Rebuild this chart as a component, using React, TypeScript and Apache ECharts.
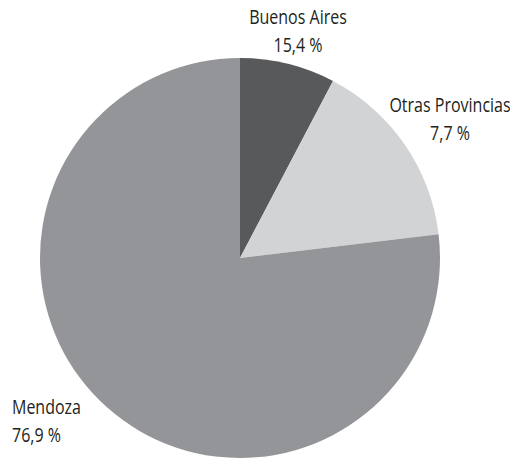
import React, { useEffect, useRef } from "react";
import * as echarts from "echarts";

const categories = ["Buenos Aires", "Otras Provincias", "Mendoza"];
const sliceValues = [7.7, 15.4, 76.9];
const percentLabels = ["15,4 %", "7,7 %", "76,9 %"];
const sliceColors = ["#58595b", "#d1d3d4", "#939598"];

const FONT = '"Open Sans", sans-serif';

export default function App() {
  const ref = useRef<HTMLDivElement>(null);
  useEffect(() => {
    if (!ref.current) return;
    const chart = echarts.init(ref.current, null, { renderer: "svg" });
    const labelPos = [
      { x: 298, y: 2, align: "center" },
      { x: 450, y: 90, align: "center" },
      { x: 12, y: 392, align: "left" },
    ];
    chart.setOption({
      animation: false,
      backgroundColor: "#ffffff",
      series: [
        {
          type: "pie",
          center: [240, 258],
          radius: [0, 200],
          startAngle: 90,
          clockwise: true,
          label: { show: false },
          labelLine: { show: false },
          emphasis: { disabled: true },
          itemStyle: { borderWidth: 0 },
          data: categories.map((name, i) => ({
            name,
            value: sliceValues[i],
            itemStyle: { color: sliceColors[i] },
          })),
        },
      ],
      graphic: categories.map((name, i) => ({
        type: "text",
        x: labelPos[i].x,
        y: labelPos[i].y,
        scaleX: 0.8,
        style: {
          text: name + "\n" + percentLabels[i],
          fontFamily: FONT,
          fontSize: 20,
          lineHeight: 28,
          fill: "#231f20",
          align: labelPos[i].align,
          verticalAlign: "top",
        },
      })),
    });
    return () => chart.dispose();
  }, []);
  return (
    <div
      ref={ref}
      style={{ position: "absolute", left: 0, top: 0, width: 510, height: 459 }}
    />
  );
}
